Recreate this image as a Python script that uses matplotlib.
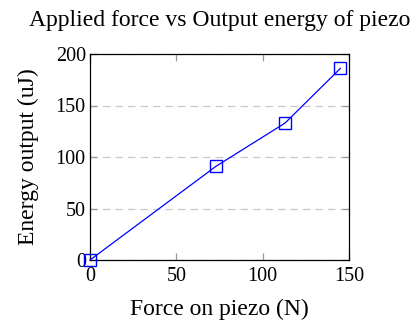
import matplotlib
matplotlib.use("Agg")
import matplotlib.pyplot as plt

plt.rcParams['font.family'] = ['Liberation Serif', 'DejaVu Serif']

force = [0, 73, 113, 145]
energia = [0, 91, 133, 186]
xticks = [0, 50, 100, 150]
yticks = [0, 50, 100, 150, 200]

fig = plt.figure(figsize=(4.17, 3.27), dpi=100)
ax = fig.add_axes([90 / 417, 67 / 327, 259 / 417, 206 / 327])

ax.plot(force, energia, color="blue", linewidth=0.9, marker="s", markersize=8.5,
        markerfacecolor="none", markeredgecolor="blue", markeredgewidth=1.0,
        clip_on=False, zorder=3)

ax.set_xlim(0, 150)
ax.set_ylim(0, 200)
ax.set_xticks(xticks)
ax.set_yticks(yticks)
ax.yaxis.grid(True, linestyle=(0, (6, 4)), color="#c8c8c8", linewidth=0.9)
ax.tick_params(direction="in", top=True, right=True, length=5, width=0.9,
               color="#999999", labelsize=14.5, pad=3)
ax.tick_params(axis="x", pad=5)
for s in ax.spines.values():
    s.set_linewidth(0.9)

ax.set_title("Applied force vs Output energy of piezo", fontsize=17, pad=20)
ax.set_xlabel("Force on piezo (N)", fontsize=17, labelpad=9)
ax.set_ylabel("Energy output (uJ)", fontsize=17, labelpad=12)

fig.savefig("out.png", dpi=100)
